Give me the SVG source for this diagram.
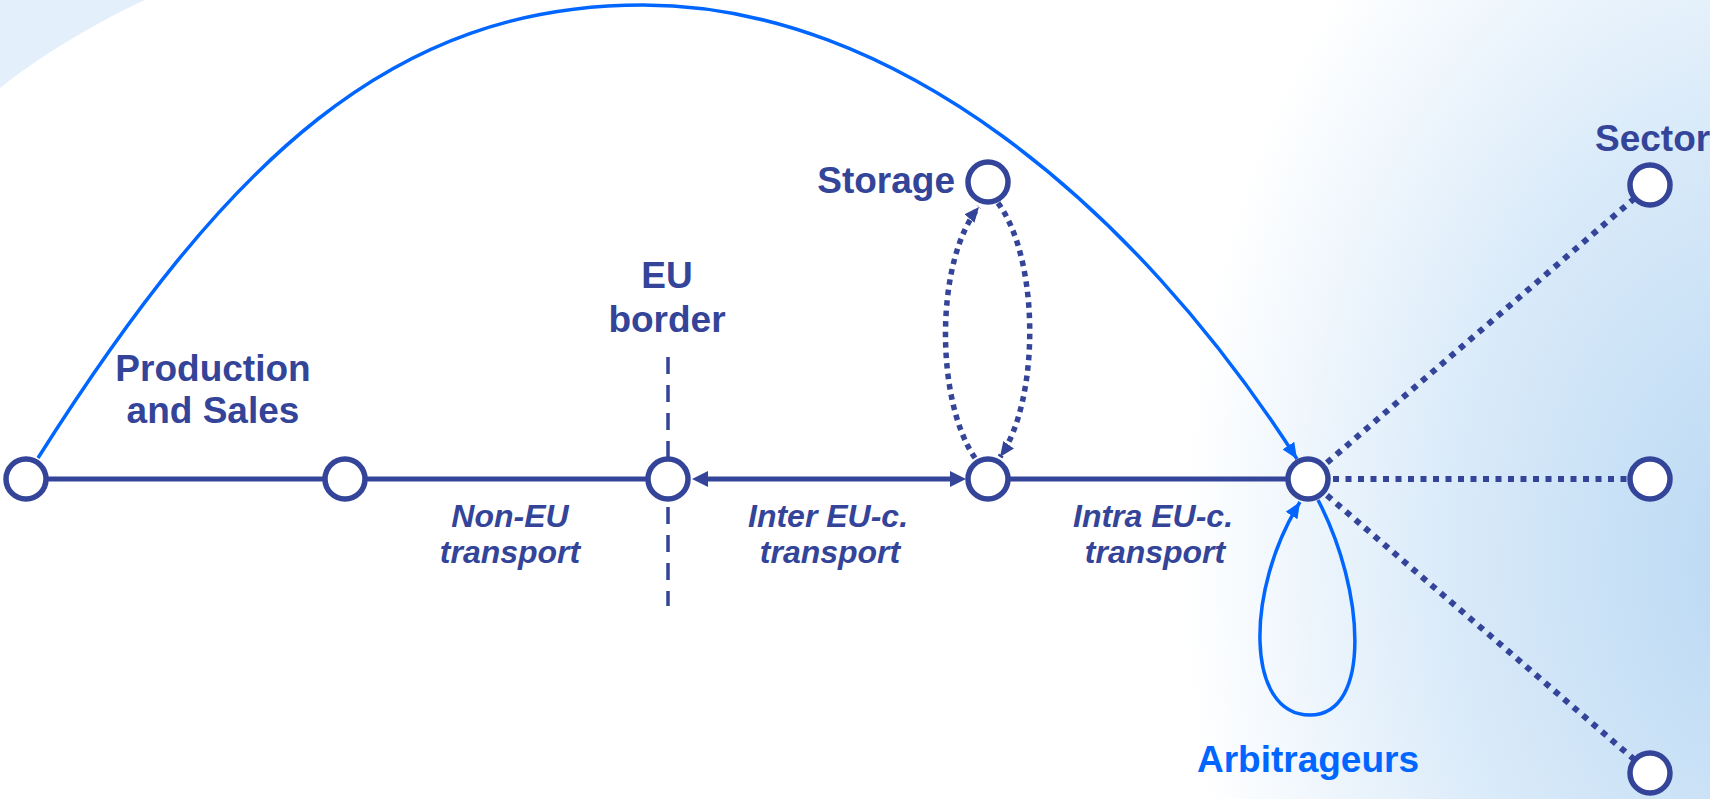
<svg xmlns="http://www.w3.org/2000/svg" width="1710" height="799" viewBox="0 0 1710 799">
  <defs>
    <radialGradient id="bgGlow" gradientUnits="userSpaceOnUse" cx="1760" cy="560" r="1" gradientTransform="translate(1760 560) scale(680 980) translate(-1760 -560)">
      <stop offset="0" stop-color="#B9D8F3"/>
      <stop offset="0.45" stop-color="#D9EAF9"/>
      <stop offset="0.85" stop-color="#FFFFFF"/>
      <stop offset="1" stop-color="#FFFFFF"/>
    </radialGradient>
    <marker id="arrowNavy" viewBox="0 0 16 16" refX="8" refY="8" markerWidth="16" markerHeight="16" markerUnits="userSpaceOnUse" orient="auto-start-reverse">
      <path d="M0,0 L16,8 L0,16 Z" fill="#334499"/>
    </marker>
    <marker id="arrowNavySmall" viewBox="0 0 15 13" refX="15" refY="6.5" markerWidth="15" markerHeight="13" markerUnits="userSpaceOnUse" orient="auto">
      <path d="M0,0 L15,6.5 L0,13 Z" fill="#334499"/>
    </marker>
    <marker id="arrowBlue" viewBox="0 0 16 14" refX="16" refY="7" markerWidth="16" markerHeight="14" markerUnits="userSpaceOnUse" orient="auto">
      <path d="M0,0 L16,7 L0,14 Z" fill="#0066FF"/>
    </marker>
  </defs>
  <style>
    .node { fill: #FFFFFF; stroke: #334499; stroke-width: 5.5; }
    .solid { fill: none; stroke: #334499; stroke-width: 5; }
    .border { fill: none; stroke: #334499; stroke-width: 3.5; stroke-dasharray: 17 11; }
    .dots { fill: none; stroke: #334499; stroke-width: 5.5; stroke-dasharray: 5.5 5; }
    .sector { fill: none; stroke: #334499; stroke-width: 6; stroke-dasharray: 6 6.5; }
    .flow { fill: none; stroke: #0066FF; stroke-width: 3.5; }
    .lbl { font-family: "Liberation Sans", Arial, sans-serif; font-weight: bold; font-size: 37px; fill: #334499; }
    .seg { font-family: "Liberation Sans", Arial, sans-serif; font-weight: bold; font-style: italic; font-size: 32px; fill: #334499; text-anchor: middle; }
  </style>

  <!-- background -->
  <rect x="0" y="0" width="1710" height="799" fill="#FFFFFF"/>
  <rect x="0" y="0" width="1710" height="799" fill="url(#bgGlow)"/>
  <path d="M0,0 H145 C105,18 45,52 0,88 Z" fill="#E3EFFA"/>

  <!-- connectors -->
  <g id="connectors">
    <line class="solid" x1="26" y1="479" x2="345" y2="479"/>
    <line class="solid" x1="345" y1="479" x2="668" y2="479"/>
    <line class="solid" x1="700" y1="479" x2="958" y2="479" marker-start="url(#arrowNavy)" marker-end="url(#arrowNavy)"/>
    <line class="solid" x1="988" y1="479" x2="1308" y2="479"/>
    <line class="border" x1="668" y1="357" x2="668" y2="458"/>
    <line class="border" x1="668" y1="507" x2="668" y2="606"/>
    <path class="dots" d="M975,458 C935,400 935,260 979,207" marker-end="url(#arrowNavySmall)"/>
    <path class="dots" d="M998,203 C1040,260 1040,400 1000,457" marker-end="url(#arrowNavySmall)"/>
    <path class="flow" d="M38,458 C228,158 393,5 643,5 C893,5 1133,203 1297,459" marker-end="url(#arrowBlue)"/>
    <path class="flow" d="M1318,500 C1365,590 1372,715 1310,715 C1245,715 1245,590 1300,502" marker-end="url(#arrowBlue)"/>
    <line class="sector" x1="1308" y1="479" x2="1650" y2="185"/>
    <line class="sector" x1="1308" y1="479" x2="1650" y2="479"/>
    <line class="sector" x1="1308" y1="479" x2="1650" y2="773"/>
  </g>

  <!-- nodes -->
  <g id="production">
    <circle class="node" cx="26" cy="479" r="20"/>
    <text class="lbl" x="213" y="381" text-anchor="middle">Production</text>
    <text class="lbl" x="213" y="423" text-anchor="middle">and Sales</text>
  </g>
  <g id="sales">
    <circle class="node" cx="345" cy="479" r="20"/>
  </g>
  <g id="eu-border">
    <circle class="node" cx="668" cy="479" r="20"/>
    <text class="lbl" x="667" y="288" text-anchor="middle">EU</text>
    <text class="lbl" x="667" y="332" text-anchor="middle">border</text>
  </g>
  <g id="hub">
    <circle class="node" cx="988" cy="479" r="20"/>
  </g>
  <g id="storage">
    <circle class="node" cx="988" cy="182" r="20"/>
    <text class="lbl" x="955" y="193" text-anchor="end">Storage</text>
  </g>
  <g id="arbitrageurs">
    <circle class="node" cx="1308" cy="479" r="20"/>
    <text class="lbl" x="1308" y="772" text-anchor="middle" style="fill:#0066FF">Arbitrageurs</text>
  </g>
  <g id="sector-1">
    <circle class="node" cx="1650" cy="185" r="20"/>
    <text class="lbl" x="1595" y="151">Sector</text>
  </g>
  <g id="sector-2">
    <circle class="node" cx="1650" cy="479" r="20"/>
  </g>
  <g id="sector-3">
    <circle class="node" cx="1650" cy="773" r="20"/>
  </g>

  <!-- segment labels -->
  <g id="segment-labels">
    <text class="seg" x="510" y="527">Non-EU</text>
    <text class="seg" x="510" y="563">transport</text>
    <text class="seg" x="828" y="527">Inter EU-c.</text>
    <text class="seg" x="830" y="563">transport</text>
    <text class="seg" x="1153" y="527">Intra EU-c.</text>
    <text class="seg" x="1155" y="563">transport</text>
  </g>
</svg>
